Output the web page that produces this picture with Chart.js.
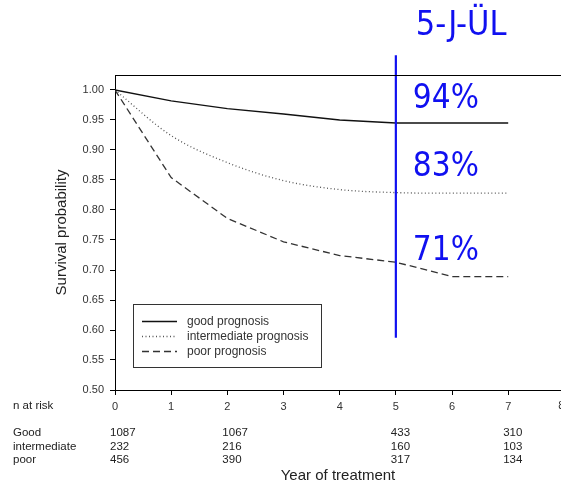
<!DOCTYPE html>
<html>
<head>
<meta charset="utf-8">
<script src="https://cdn.jsdelivr.net/npm/chart.js@4.4.0/dist/chart.umd.min.js"></script>
<style>
  html, body { margin: 0; padding: 0; background: #fff; }
  canvas { display: block; }
</style>
</head>
<body>
<canvas id="chart" width="561" height="486"></canvas>
<script>
// survival curves at whole years
const years = [0, 1, 2, 3, 4, 5, 6, 7];
const goodSurv = [1.000, 0.982, 0.969, 0.960, 0.950, 0.945, 0.945, 0.945];
const interSurv = [1.000, 0.924, 0.879, 0.849, 0.834, 0.829, 0.828, 0.828];
const poorSurv = [1.000, 0.854, 0.786, 0.747, 0.724, 0.713, 0.689, 0.689];
const seriesNames = ['good prognosis', 'intermediate prognosis', 'poor prognosis'];

const xTicks = [0, 1, 2, 3, 4, 5, 6, 7, 8];
const yTicks = [0.50, 0.55, 0.60, 0.65, 0.70, 0.75, 0.80, 0.85, 0.90, 0.95, 1.00];

// number at risk table
const riskYears = [0, 2, 5, 7];
const riskGroups = ['Good', 'intermediate', 'poor'];
const riskGood = [1087, 1067, 433, 310];
const riskInter = [232, 216, 160, 103];
const riskPoor = [456, 390, 317, 134];

// 5-year marker
const markYear = 5;
const markSpan = [0.587, 1.058];
const rateTitle = '5-J-ÜL';
const rateLabels = ['94%', '83%', '71%'];

const BLUE = '#1010f0';
const FONT = "'Liberation Sans', Arial, sans-serif";
const BIG = "'DejaVu Sans Condensed', 'DejaVu Sans', sans-serif";

Chart.defaults.font.family = FONT;
Chart.defaults.color = '#333';

const toPts = (ys) => years.map((x, i) => ({ x, y: ys[i] }));

const extras = {
  id: 'extras',
  afterDraw(chart) {
    const { ctx, chartArea: a, scales: { x, y } } = chart;
    ctx.save();

    // top frame line
    ctx.strokeStyle = '#000';
    ctx.lineWidth = 1;
    ctx.beginPath();
    ctx.moveTo(a.left, Math.round(a.top) + 0.5);
    ctx.lineTo(chart.width, Math.round(a.top) + 0.5);
    ctx.stroke();

    // tick label cut off at the right edge
    ctx.font = '11px ' + FONT;
    ctx.fillStyle = '#333';
    ctx.textAlign = 'center';
    ctx.textBaseline = 'middle';
    xTicks.filter(v => v > x.max).forEach(v => ctx.fillText(String(v), x.getPixelForValue(v) - 3, 406));

    // legend box
    const bx = a.left + 18, by = a.top + 229, bw = 188, bh = 63;
    ctx.strokeStyle = '#333';
    ctx.strokeRect(Math.round(bx) + 0.5, Math.round(by) + 0.5, bw, bh);
    ctx.font = '12px ' + FONT;
    ctx.textAlign = 'left';
    chart.data.datasets.slice(0, 3).forEach((ds, i) => {
      const ly = Math.round(by + 16.5 + i * 15) + 0.5;
      ctx.strokeStyle = ds.borderColor;
      ctx.lineWidth = ds.borderWidth;
      ctx.setLineDash(ds.borderDash || []);
      ctx.beginPath();
      ctx.moveTo(bx + 9, ly);
      ctx.lineTo(bx + 44, ly);
      ctx.stroke();
      ctx.setLineDash([]);
      ctx.fillStyle = '#333';
      ctx.fillText(seriesNames[i], bx + 54, ly);
    });

    // n at risk
    ctx.font = '11.5px ' + FONT;
    ctx.fillStyle = '#222';
    ctx.fillText('n at risk', 13, 406);
    const rows = [riskGood, riskInter, riskPoor];
    const rowY = [433, 447, 460];
    rows.forEach((vals, r) => {
      ctx.fillText(riskGroups[r], 13, rowY[r]);
      vals.forEach((v, k) => {
        ctx.fillText(String(v), x.getPixelForValue(riskYears[k]) - 5, rowY[r]);
      });
    });

    // 5-year survival labels
    ctx.fillStyle = BLUE;
    ctx.textBaseline = 'alphabetic';
    const lx = x.getPixelForValue(markYear);
    ctx.font = '34px ' + BIG;
    ctx.fillText(rateTitle, lx + 20, 35);
    ctx.font = '33px ' + BIG;
    const anchors = [0.970, 0.857, 0.717];
    rateLabels.forEach((t, i) => ctx.fillText(t, lx + 17, y.getPixelForValue(anchors[i])));

    ctx.restore();
  }
};

new Chart(document.getElementById('chart'), {
  type: 'line',
  data: {
    datasets: [
      { label: seriesNames[0], data: toPts(goodSurv), borderColor: '#111', borderWidth: 1.3, order: 1 },
      { label: seriesNames[1], data: toPts(interSurv), borderColor: '#555', borderWidth: 1.3, borderDash: [1, 2.5], cubicInterpolationMode: 'monotone', order: 1 },
      { label: seriesNames[2], data: toPts(poorSurv), borderColor: '#333', borderWidth: 1.3, borderDash: [7, 4], order: 1 },
      { label: 'mark', data: markSpan.map(v => ({ x: markYear, y: v })), borderColor: BLUE, borderWidth: 2.2, clip: false, order: 0 }
    ]
  },
  options: {
    responsive: false,
    animation: false,
    devicePixelRatio: 1,
    elements: { point: { radius: 0 }, line: { tension: 0, borderCapStyle: 'butt' } },
    layout: { autoPadding: false, padding: { top: 75, left: 0, right: -8, bottom: 0 } },
    plugins: { legend: { display: false }, tooltip: { enabled: false } },
    scales: {
      x: {
        // the plotted frame runs a little past the right edge of the picture
        type: 'linear', min: 0, max: 7.94,
        afterBuildTicks: (s) => { s.ticks = xTicks.map(v => ({ value: v })); },
        afterFit: (s) => { s.height = 96; s.paddingLeft = 0; s.paddingRight = 0; },
        ticks: { font: { size: 11 }, color: '#333', padding: 5, maxRotation: 0, autoSkip: false },
        grid: { drawOnChartArea: false, drawTicks: true, tickLength: 5, color: '#000' },
        border: { color: '#000', width: 1 },
        title: { display: true, text: 'Year of treatment', font: { size: 15 }, color: '#222', padding: { top: 0, bottom: 1 } }
      },
      y: {
        type: 'linear', min: 0.5, max: 1.025,
        afterBuildTicks: (s) => { s.ticks = yTicks.map(v => ({ value: v })); },
        afterFit: (s) => { s.width = 115; },
        ticks: { font: { size: 11 }, color: '#333', padding: 6, callback: (v) => v.toFixed(2) },
        grid: { drawOnChartArea: false, drawTicks: true, tickLength: 5, color: '#000' },
        border: { color: '#000', width: 1 },
        title: { display: true, text: 'Survival probability', font: { size: 15 }, color: '#222', padding: { top: 53, bottom: 0 } }
      }
    }
  },
  plugins: [extras]
});
</script>
</body>
</html>
